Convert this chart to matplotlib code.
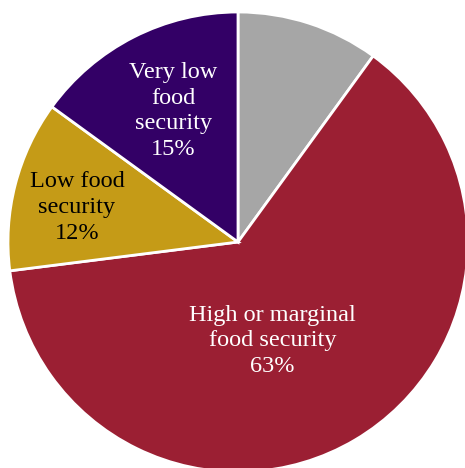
import matplotlib
matplotlib.use("Agg")
import matplotlib.pyplot as plt

labels = ["", "High or marginal\nfood security", "Low food\nsecurity", "Very low\nfood\nsecurity"]
shares = [10, 63, 12, 15]
colors = ["#A6A6A6", "#9B1F33", "#C59B17", "#330066"]
text_colors = ["white", "white", "black", "white"]

# label placement (x, y) in pie units, tuned by eye
label_pos = [None, (0.15, -0.43), (-0.70, 0.15), (-0.28, 0.57)]

plt.rcParams["font.family"] = ["Liberation Serif", "DejaVu Serif"]

fig = plt.figure(figsize=(4.65, 4.68), dpi=100)
ax = fig.add_axes([0, 0, 1, 1])

ax.pie(
    shares,
    colors=colors,
    startangle=90,
    counterclock=False,
    radius=1.0,
    wedgeprops=dict(edgecolor="white", linewidth=2),
)

for lab, val, pos, tc in zip(labels, shares, label_pos, text_colors):
    if not lab:
        continue
    ax.text(pos[0], pos[1], f"{lab}\n{val}%", ha="center", va="center",
            color=tc, fontsize=17.5, linespacing=1.3)

ax.set_xlim(-238 / 230, (465 - 238) / 230)
ax.set_ylim(-(468 - 242) / 230, 242 / 230)
ax.set_aspect("equal")
ax.axis("off")

fig.savefig("out.png", dpi=100)
